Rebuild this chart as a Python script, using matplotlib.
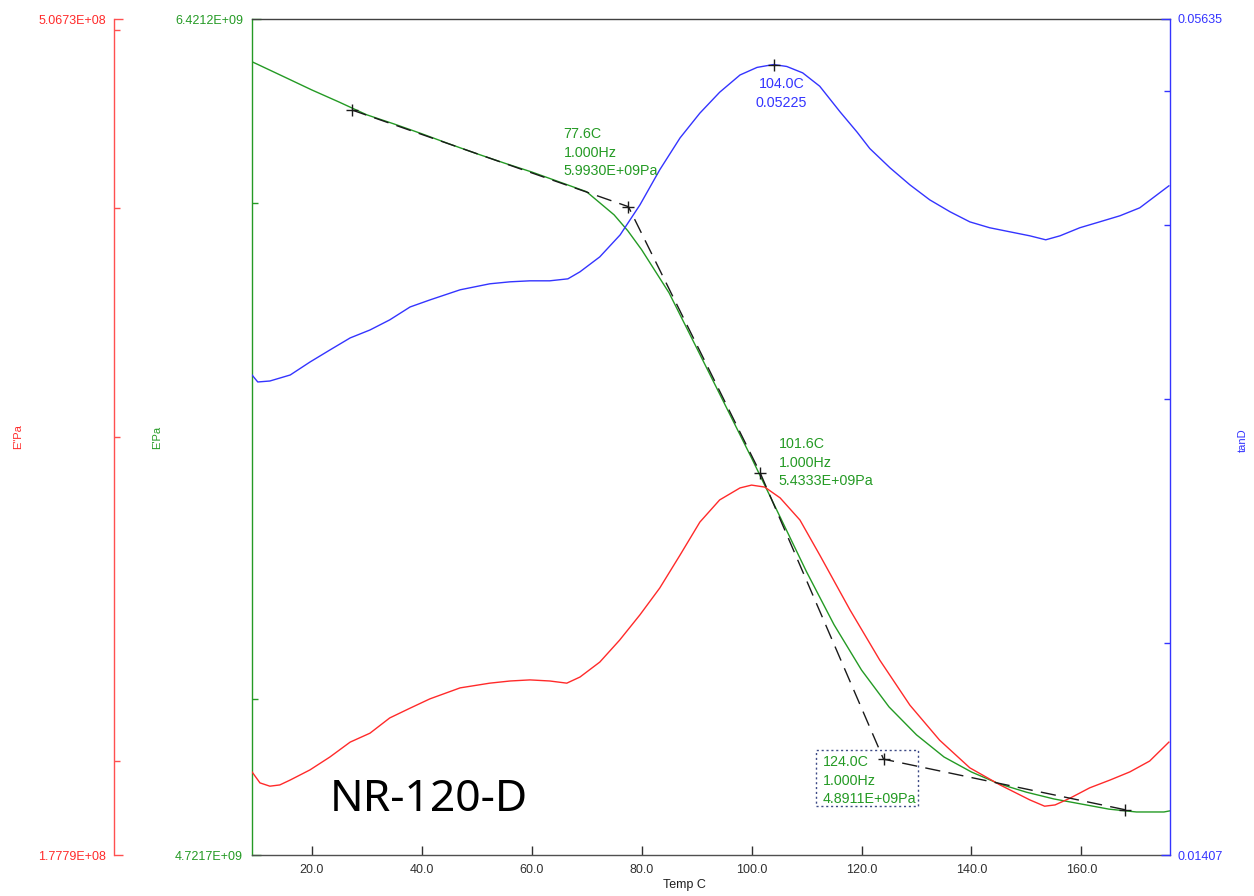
import matplotlib
matplotlib.use("Agg")
import matplotlib.pyplot as plt
from matplotlib.ticker import FixedLocator, NullFormatter
from matplotlib.patches import Rectangle
from matplotlib.transforms import Affine2D

plt.rcParams["font.family"] = ["Liberation Sans", "DejaVu Sans"]

# ---- data -------------------------------------------------------------
temp_storage = [9.15, 10, 15, 20, 25, 30, 35, 40, 45, 50, 55, 60, 65, 70, 75,
                77.5, 80, 85, 90, 95, 100, 105, 110, 115, 120, 125, 130, 135,
                140, 145, 150, 155, 160, 165, 170, 175, 176.1]
storage_mod = [6.321e9, 6.316e9, 6.286e9, 6.256e9, 6.228e9, 6.199e9, 6.178e9,
               6.156e9, 6.133e9, 6.111e9, 6.090e9, 6.070e9, 6.048e9, 6.026e9,
               5.975e9, 5.940e9, 5.899e9, 5.806e9, 5.690e9, 5.576e9, 5.464e9,
               5.351e9, 5.240e9, 5.139e9, 5.054e9, 4.986e9, 4.935e9, 4.895e9,
               4.868e9, 4.847e9, 4.832e9, 4.820e9, 4.811e9, 4.802e9, 4.797e9,
               4.797e9, 4.799e9]

temp_loss = [9.15, 10.6, 12.4, 14.2, 16.1, 19.7, 23.3, 27.0, 30.6, 34.2, 37.9,
             41.5, 47.0, 52.4, 56.1, 59.7, 63.3, 66.4, 68.8, 72.4, 76.0, 79.7,
             83.3, 87.0, 90.6, 94.2, 97.9, 100.0, 102.4, 105.2, 108.8, 112.4,
             117.9, 123.3, 128.8, 134.2, 139.7, 145.2, 150.6, 153.3, 155.2,
             157.9, 161.5, 165.2, 168.8, 172.4, 175.9]
loss_mod = [1.973e8, 1.946e8, 1.938e8, 1.941e8, 1.953e8, 1.978e8, 2.010e8,
            2.048e8, 2.071e8, 2.111e8, 2.137e8, 2.162e8, 2.192e8, 2.205e8,
            2.211e8, 2.214e8, 2.211e8, 2.205e8, 2.222e8, 2.264e8, 2.327e8,
            2.402e8, 2.484e8, 2.589e8, 2.698e8, 2.774e8, 2.816e8, 2.826e8,
            2.819e8, 2.781e8, 2.705e8, 2.589e8, 2.417e8, 2.270e8, 2.145e8,
            2.053e8, 1.983e8, 1.941e8, 1.905e8, 1.890e8, 1.893e8, 1.909e8,
            1.934e8, 1.953e8, 1.973e8, 2.000e8, 2.048e8]

temp_tan = [9.15, 10.2, 12.4, 16.1, 19.7, 23.3, 27.0, 30.6, 34.2, 37.9, 41.5,
            47.0, 52.4, 56.1, 59.7, 63.3, 66.6, 68.8, 72.4, 76.1, 79.7, 83.3,
            87.0, 90.6, 94.2, 97.9, 101.0, 104.0, 106.4, 109.3, 112.4, 116.1,
            119.2, 121.5, 125.2, 128.8, 132.4, 136.1, 139.7, 143.3, 147.0,
            150.6, 153.5, 156.1, 159.7, 163.3, 167.0, 170.6, 175.9]
tan_delta = [0.03121, 0.03085, 0.03090, 0.03121, 0.03189, 0.03253, 0.03319,
             0.03363, 0.03420, 0.03494, 0.03535, 0.03595, 0.03631, 0.03643,
             0.03649, 0.03649, 0.03661, 0.03704, 0.03797, 0.03938, 0.04139,
             0.04387, 0.04626, 0.04820, 0.04990, 0.05135, 0.05200, 0.05225,
             0.05208, 0.05153, 0.05040, 0.04830, 0.04670, 0.04545, 0.04401,
             0.04279, 0.04174, 0.04092, 0.04024, 0.03985, 0.03958, 0.03932,
             0.03906, 0.03932, 0.03985, 0.04024, 0.04065, 0.04119, 0.04272]

# tangent construction points on the storage modulus curve
onset_temp = [27.3, 77.6, 101.6, 124.0, 167.9]
onset_mod = [6.210e9, 5.9930e9, 5.4333e9, 4.8911e9, 4.801e9]

peak_temp = 104.0
peak_tan = 0.05225
frequency_hz = 1.000

x_range = (9.15, 176.1)
x_ticks = [20, 40, 60, 80, 100, 120, 140, 160]
storage_range = (4.7217e9, 6.4212e9)
storage_inner_ticks = [5e9, 6e9]
loss_range = (1.7779e8, 5.0673e8)
loss_inner_ticks = [2e8, 3e8, 4e8, 5e8]
tan_range = (0.01407, 0.05635)
tan_inner_ticks = [0.02, 0.03, 0.04, 0.05]

sample_name = "NR-120-D"

# ---- styling ------------------------------------------------------------
RED = "#ff2a2a"
GREEN = "#249a24"
BLUE = "#3434ff"
DARK = "#404040"
PX = 72 / 100  # points per pixel at dpi=100

fig = plt.figure(figsize=(12.54, 8.96), dpi=100)
fig.patch.set_facecolor("white")
ax = fig.add_axes([252 / 1254, 41 / 896, 918 / 1254, 836 / 896])
ax_tan = ax.twinx()
ax_loss = ax.twinx()


def style_log_axis(a, lims, inner, color, side, fmt, pad):
    a.set_yscale("log")
    a.set_ylim(*lims)
    a.yaxis.set_major_locator(FixedLocator(list(lims)))
    a.set_yticklabels([fmt(v) for v in lims])
    a.yaxis.set_minor_locator(FixedLocator(inner))
    a.yaxis.set_minor_formatter(NullFormatter())
    kw = dict(left=(side == "left"), right=(side == "right"),
              labelleft=(side == "left"), labelright=(side == "right"))
    a.tick_params(axis="y", which="major", direction="in", length=9 * PX,
                  width=1, color=color, labelcolor=color, labelsize=9,
                  pad=pad, **kw)
    a.tick_params(axis="y", which="minor", direction="in", length=6 * PX,
                  width=1, color=color, **kw)


def sci(v):
    m, e = f"{v:.4E}".split("E")
    return f"{m}E{e[0]}{e[1:].zfill(2)}"


# storage modulus (host axes, green)
ax.plot(temp_storage, storage_mod, color=GREEN, lw=1.0, zorder=3)
style_log_axis(ax, storage_range, storage_inner_ticks, GREEN, "left", sci, 9 * PX)
ax.set_xlim(*x_range)
ax.set_xticks(x_ticks)
ax.set_xticklabels([f"{t:.1f}" for t in x_ticks])
ax.tick_params(axis="x", direction="in", length=9 * PX, width=1, color="#303030",
               labelcolor="#303030", labelsize=9, pad=9 * PX, top=False)
ax.spines["left"].set_color(GREEN)
ax.spines["bottom"].set_color("#505050")
ax.spines["top"].set_color(DARK)
ax.spines["right"].set_visible(False)
for s in ax.spines.values():
    s.set_linewidth(1.0)

# tan delta (right axis, blue)
ax_tan.plot(temp_tan, tan_delta, color=BLUE, lw=1.0)
style_log_axis(ax_tan, tan_range, tan_inner_ticks, BLUE, "right",
               lambda v: f"{v:.5f}", 7 * PX)
for s in ("left", "top", "bottom"):
    ax_tan.spines[s].set_visible(False)
ax_tan.spines["right"].set_color(BLUE)
ax_tan.spines["right"].set_linewidth(1.0)

# loss modulus (offset left axis, red)
ax_loss.plot(temp_loss, loss_mod, color=RED, lw=1.0)
ax_loss.yaxis.set_label_position("left")
ax_loss.yaxis.tick_left()
style_log_axis(ax_loss, loss_range, loss_inner_ticks, "#ff5050", "left", sci, 8 * PX)
ax_loss.tick_params(axis="y", which="both", labelcolor=RED)
for s in ("right", "top", "bottom"):
    ax_loss.spines[s].set_visible(False)
ax_loss.spines["left"].set_visible(True)
ax_loss.spines["left"].set_position(("axes", -138 / 918))
ax_loss.spines["left"].set_color("#ff5050")
ax_loss.spines["left"].set_linewidth(1.0)

# tangent lines and markers on the storage curve (drawn on top)
ax_top = ax_loss
line_tr = ax.transData
ax_top.plot(onset_temp, onset_mod, color="#1a1a1a", lw=1.0, dashes=(11, 6),
            transform=line_tr, zorder=5)
ax_top.plot(onset_temp, onset_mod, ls="none", marker="+", ms=8, mew=1.0,
            color="#1a1a1a", transform=line_tr, zorder=6)
ax_top.plot([peak_temp], [peak_tan], ls="none", marker="+", ms=8, mew=1.0,
            color="#1a1a1a", transform=ax_tan.transData, zorder=6)

ANN = dict(fontsize=10.3, textcoords="offset pixels", annotation_clip=False)


def storage_label(idx, dx, dys):
    t, v = onset_temp[idx], onset_mod[idx]
    lines = [f"{t:.1f}C", f"{frequency_hz:.3f}Hz", f"{sci(v)}Pa"]
    for txt, dy in zip(lines, dys):
        ax_top.annotate(txt, xy=(t, v), xycoords=line_tr, xytext=(dx, dy),
                        color=GREEN, ha="left", va="baseline", **ANN)


storage_label(1, -65, (69, 50, 32))
storage_label(2, 18.5, (25, 6, -12))
storage_label(3, -61, (-7, -26, -44))

for txt, dy in ((f"{peak_temp:.1f}C", -23.5), (f"{peak_tan:.5f}", -42.5)):
    ax_top.annotate(txt, xy=(peak_temp, peak_tan), xycoords=ax_tan.transData,
                    xytext=(8, dy), color=BLUE, ha="center", va="baseline", **ANN)

# dotted frame around the 124.0C label
fig.canvas.draw()
bx, by = ax.transData.transform((onset_temp[3], onset_mod[3]))
frame = Rectangle((-68, -46.7), 102.6, 55.7, fill=False, ec="#3d4a86", lw=1.0,
                  ls=(0, (1.5, 2)), transform=Affine2D().translate(bx, by))
fig.add_artist(frame)

# sample name
ax_top.text(78 / 918, 44 / 836, sample_name, transform=ax.transAxes,
            fontsize=32, family=["Noto Sans", "DejaVu Sans"], color="black",
            ha="left", va="baseline", zorder=7)

# axis titles
fig.text(18 / 1254, 1 - 437 / 896, "E\"Pa", color=RED, fontsize=8,
         rotation=90, ha="center", va="center")
fig.text(157 / 1254, 1 - 437 / 896, "E'Pa", color=GREEN, fontsize=8,
         rotation=90, ha="center", va="center")
fig.text(1243 / 1254, 1 - 440 / 896, "tanD", color=BLUE, fontsize=8,
         rotation=90, ha="center", va="center")
fig.text(684 / 1254, 1 - 885 / 896, "Temp C", color="#202020", fontsize=9,
         ha="center", va="center")

fig.savefig("out.png", dpi=100, facecolor="white")
